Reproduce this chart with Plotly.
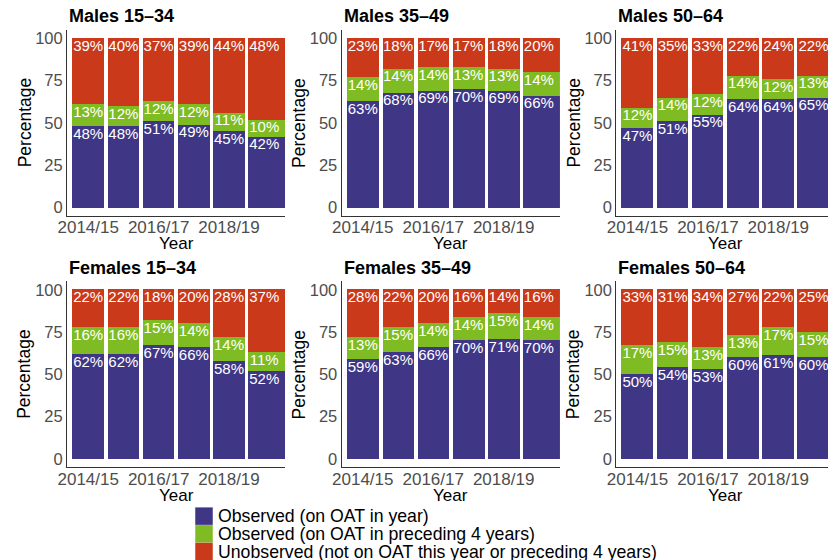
import plotly.graph_objects as go

# ---------------- data ----------------
years = ["2014/15", "2015/16", "2016/17", "2017/18", "2018/19", "2019/20"]
tick_years = ["2014/15", "2016/17", "2018/19"]
panel_titles = ["Males 15–34", "Males 35–49", "Males 50–64",
                "Females 15–34", "Females 35–49", "Females 50–64"]
series_names = ["Observed (on OAT in year)",
                "Observed (on OAT in preceding 4 years)",
                "Unobserved (not on OAT this year or preceding 4 years)"]

m1534_obs = [48, 48, 51, 49, 45, 42]
m1534_pre = [13, 12, 12, 12, 11, 10]
m1534_un = [39, 40, 37, 39, 44, 48]

m3549_obs = [63, 68, 69, 70, 69, 66]
m3549_pre = [14, 14, 14, 13, 13, 14]
m3549_un = [23, 18, 17, 17, 18, 20]

m5064_obs = [47, 51, 55, 64, 64, 65]
m5064_pre = [12, 14, 12, 14, 12, 13]
m5064_un = [41, 35, 33, 22, 24, 22]

f1534_obs = [62, 62, 67, 66, 58, 52]
f1534_pre = [16, 16, 15, 14, 14, 11]
f1534_un = [22, 22, 18, 20, 28, 37]

f3549_obs = [59, 63, 66, 70, 71, 70]
f3549_pre = [13, 15, 14, 14, 15, 14]
f3549_un = [28, 22, 20, 16, 14, 16]

f5064_obs = [50, 54, 53, 60, 61, 60]
f5064_pre = [17, 15, 13, 13, 17, 15]
f5064_un = [33, 31, 34, 27, 22, 25]

panel_data = [
    (m1534_obs, m1534_pre, m1534_un),
    (m3549_obs, m3549_pre, m3549_un),
    (m5064_obs, m5064_pre, m5064_un),
    (f1534_obs, f1534_pre, f1534_un),
    (f3549_obs, f3549_pre, f3549_un),
    (f5064_obs, f5064_pre, f5064_un),
]

# ---------------- style ----------------
W, H = 828, 560
colors = ["#3F3786", "#7FBC24", "#C9391A"]
FONT = "Liberation Sans, Arial, sans-serif"
TICK_COLOR = "#4D4D4D"
LINE_COLOR = "#333333"
UNIT = 35.6          # px per category unit
PX_PER_PCT = 1.694   # px per percentage point
LABEL_DROP = 9.0 / PX_PER_PCT  # label centre below segment top (% units)

xdom_px = [(58.7, 279.4), (336.3, 557.0), (614.0, 828.0)]
ydom_px = [(28.8, 215.2), (280.8, 467.2)]


def px_x(v):
    return v / W


def px_y(v):
    return 1 - v / H


xpos = [i + 1 for i in range(len(years))]
widths = [0.9] * (len(years) - 1) + [1.05]
tickvals = [years.index(t) + 1 for t in tick_years]

fig = go.Figure()
annotations = []

for p, (obs, pre, un) in enumerate(panel_data):
    row, col = divmod(p, 3)
    ax = "" if p == 0 else str(p + 1)
    cum = [0] * len(years)
    for s, vals in enumerate((obs, pre, un)):
        fig.add_trace(go.Bar(
            x=xpos, y=vals, width=widths, offset=-0.45,
            name=series_names[s],
            marker=dict(color=colors[s], line=dict(width=0)),
            showlegend=False,
            xaxis="x" + ax, yaxis="y" + ax,
            hovertemplate="%{y}%<extra>" + series_names[s] + "</extra>",
        ))
        cum = [c + v for c, v in zip(cum, vals)]
        fig.add_trace(go.Scatter(
            x=xpos, y=[c - LABEL_DROP for c in cum],
            mode="text", text=[f"{v}%" for v in vals],
            textposition="middle center",
            textfont=dict(color="white", size=15, family=FONT),
            showlegend=False, hoverinfo="skip",
            xaxis="x" + ax, yaxis="y" + ax,
        ))
    x0, x1 = xdom_px[col]
    y0, y1 = ydom_px[row]
    xr_end = 0.4 + (x1 - x0) / UNIT
    fig.update_layout(**{
        "xaxis" + ax: dict(
            domain=[px_x(x0), min(1, px_x(x1))], anchor="y" + ax,
            range=[0.4, xr_end], tickvals=tickvals, ticktext=tick_years,
            showline=True, linecolor=LINE_COLOR, linewidth=1.2,
            showgrid=False, zeroline=False, ticks="",
            tickfont=dict(size=17, color=TICK_COLOR, family=FONT),
            ticklabelstandoff=-4,
        ),
        "yaxis" + ax: dict(
            domain=[px_y(y1), px_y(y0)], anchor="x" + ax,
            range=[-5, 105], tickvals=[0, 25, 50, 75, 100],
            showline=True, linecolor=LINE_COLOR, linewidth=1.2,
            showgrid=False, zeroline=False, ticks="",
            tickfont=dict(size=16.5, color=TICK_COLOR, family=FONT),
            ticklabelstandoff=0,
        ),
    })
    # panel title
    annotations.append(dict(
        text="<b>" + panel_titles[p] + "</b>", xref="paper", yref="paper",
        x=px_x(x0), y=px_y(y0 - 13.5), xanchor="left", yanchor="middle",
        showarrow=False, font=dict(size=18, color="black", family=FONT)))
    # y title
    annotations.append(dict(
        text="Percentage", xref="paper", yref="paper", textangle=-90,
        x=px_x(x0 - 43), y=px_y((y0 + y1) / 2),
        xanchor="center", yanchor="middle",
        showarrow=False, font=dict(size=17.5, color="black", family=FONT)))
    # x title
    xcenter = x0 + (6.6 - 0.4) * UNIT / 2
    annotations.append(dict(
        text="Year", xref="paper", yref="paper",
        x=px_x(xcenter), y=px_y(y1 + 28), xanchor="center", yanchor="middle",
        showarrow=False, font=dict(size=17, color="black", family=FONT)))

# legend key (compact, as in the reference)
shapes = []
key_top = [507.3, 525.0, 542.7]
for s, name in enumerate(series_names):
    shapes.append(dict(
        type="rect", xref="paper", yref="paper",
        x0=px_x(188.3), x1=px_x(206.0),
        y0=px_y(key_top[s] + 17.5), y1=px_y(key_top[s]),
        fillcolor=colors[s], line=dict(width=0)))
    annotations.append(dict(
        text=name, xref="paper", yref="paper",
        x=px_x(209.5), y=px_y(key_top[s] + 9), xanchor="left", yanchor="middle",
        showarrow=False, font=dict(size=17.7, color="black", family=FONT)))

fig.update_layout(
    width=W, height=H,
    margin=dict(l=0, r=0, t=0, b=0),
    barmode="stack", bargap=0,
    plot_bgcolor="white", paper_bgcolor="white",
    font=dict(family=FONT),
    annotations=annotations, shapes=shapes,
    showlegend=False,
)

fig.write_html("out.html", config={"displayModeBar": False},
               post_script="document.body.style.margin='0';")
